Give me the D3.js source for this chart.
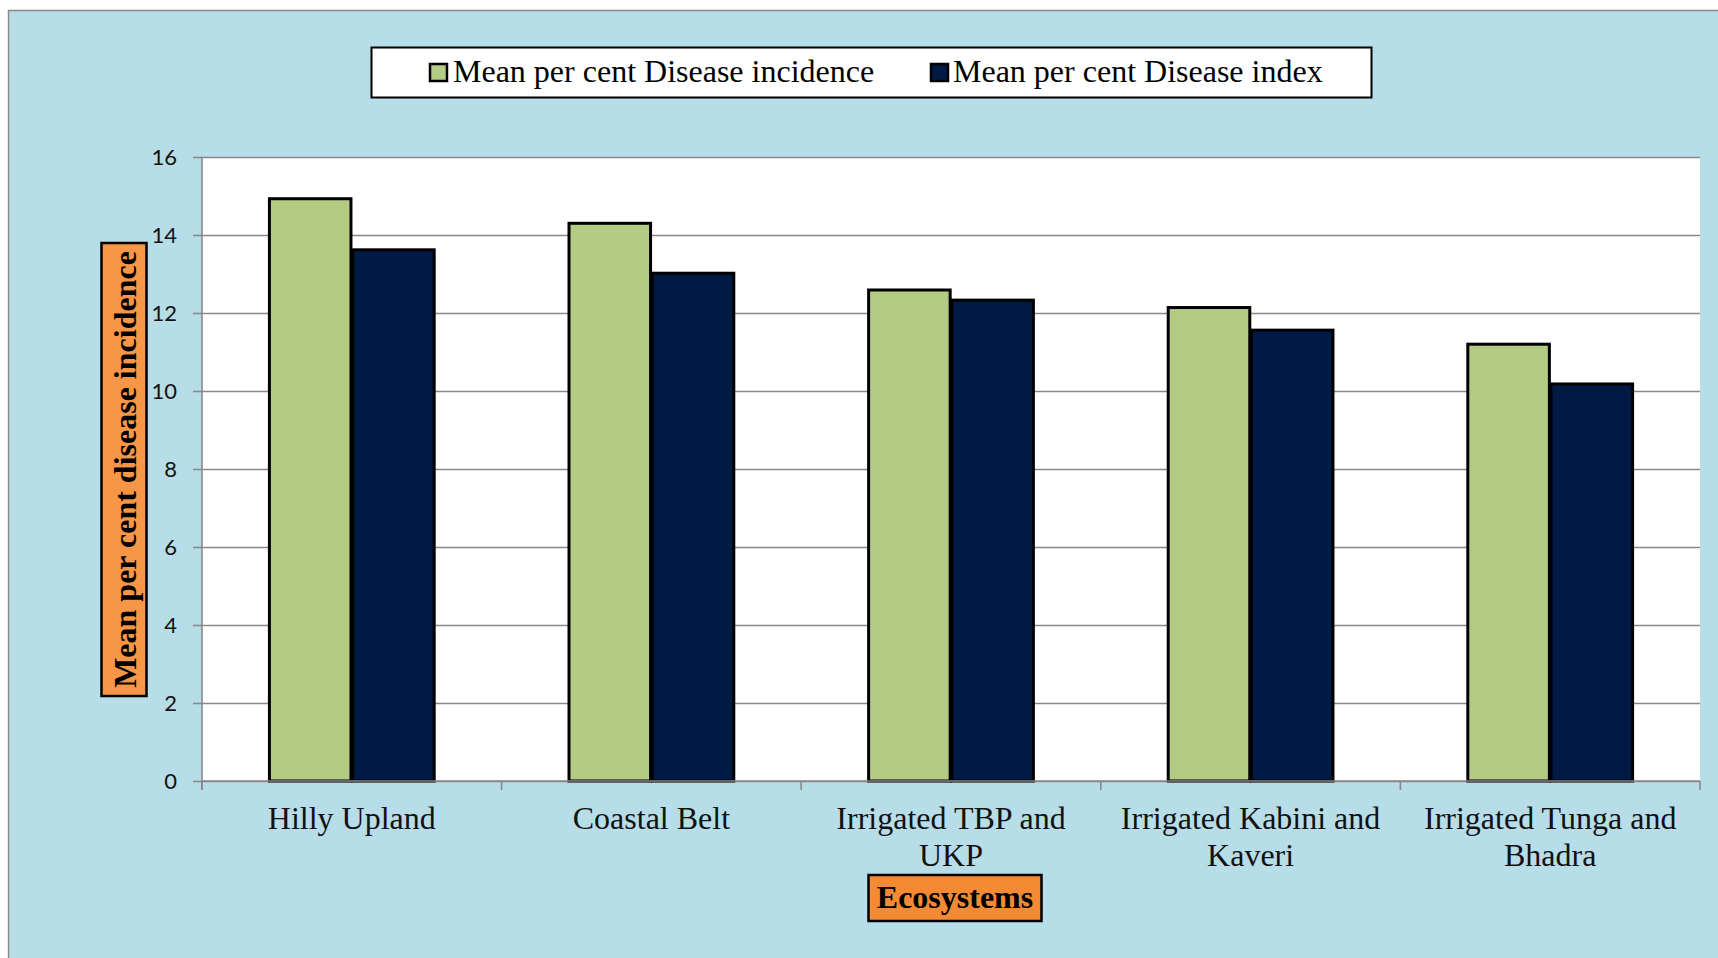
<!DOCTYPE html>
<html>
<head>
<meta charset="utf-8">
<script src="https://cdn.jsdelivr.net/npm/d3@7"></script>
<style>
  html, body { margin: 0; padding: 0; background: #ffffff; }
  svg { display: block; }
</style>
</head>
<body>
<svg id="chart" width="1718" height="958"></svg>
<script>
// Ecosystems surveyed
const categories = [
  "Hilly Upland",
  "Coastal Belt",
  "Irrigated TBP and UKP",
  "Irrigated Kabini and Kaveri",
  "Irrigated Tunga and Bhadra"
];
// Axis labels wrapped onto two lines
const categoryLines = [
  ["Hilly Upland"],
  ["Coastal Belt"],
  ["Irrigated TBP and", "UKP"],
  ["Irrigated Kabini and", "Kaveri"],
  ["Irrigated Tunga and", "Bhadra"]
];
const seriesNames = ["Mean per cent Disease incidence", "Mean per cent Disease index"];
const diseaseIncidence = [14.93, 14.30, 12.59, 12.14, 11.20];
const diseaseIndex = [13.62, 13.02, 12.33, 11.56, 10.18];
const yTicks = [0, 2, 4, 6, 8, 10, 12, 14, 16];

const seriesValues = [diseaseIncidence, diseaseIndex];
const colors = ["#b4cb84", "#001a46"];

const svg = d3.select("#chart");
const serif = "'Liberation Serif', 'Times New Roman', serif";
const gridColor = "#888888";

// chart background
svg.append("rect")
  .attr("x", 8.5).attr("y", 10.5)
  .attr("width", 1730).attr("height", 970)
  .attr("fill", "#b7dde8")
  .attr("stroke", "#8a8a8a").attr("stroke-width", 1.5);

const plot = { left: 202, right: 1700, top: 157, bottom: 781 };

const x = d3.scaleBand().domain(categories).range([plot.left, plot.right]).padding(0);
const y = d3.scaleLinear().domain([0, 16]).range([plot.bottom, plot.top]);

const groupFrac = 0.55;
const x1 = d3.scaleBand()
  .domain(d3.range(seriesNames.length))
  .range([0, x.bandwidth() * groupFrac])
  .paddingInner(0.02);
const groupOffset = x.bandwidth() * (1 - groupFrac) / 2;

// plot area
svg.append("rect")
  .attr("x", plot.left).attr("y", plot.top)
  .attr("width", plot.right - plot.left).attr("height", plot.bottom - plot.top)
  .attr("fill", "#ffffff");

// horizontal gridlines
const grid = svg.append("g")
  .attr("transform", `translate(${plot.left},0)`)
  .call(d3.axisLeft(y).tickValues(yTicks).tickSize(-(plot.right - plot.left)).tickFormat(""));
grid.select(".domain").remove();
grid.selectAll(".tick line").attr("stroke", gridColor).attr("stroke-width", 1.6);

// y axis with outward ticks
const yAxis = svg.append("g")
  .attr("transform", `translate(${plot.left},0)`)
  .call(d3.axisLeft(y).tickValues(yTicks).tickSize(9).tickPadding(16).tickFormat(d3.format("d")));
yAxis.select(".domain").attr("stroke", gridColor).attr("stroke-width", 1.6)
  .attr("d", `M0,${plot.top}V${plot.bottom + 9}`);
yAxis.selectAll(".tick line").attr("stroke", gridColor).attr("stroke-width", 1.6);
yAxis.selectAll(".tick text")
  .attr("fill", "#111")
  .style("font-family", "Lato, 'Open Sans', sans-serif")
  .style("font-size", "22px");

// bars
const groups = svg.append("g").selectAll("g")
  .data(categories)
  .join("g")
  .attr("transform", d => `translate(${x(d) + groupOffset},0)`);

groups.selectAll("rect")
  .data((d, i) => seriesValues.map((vals, s) => ({ s, v: vals[i] })))
  .join("rect")
  .attr("x", d => x1(d.s))
  .attr("y", d => y(d.v))
  .attr("width", x1.bandwidth())
  .attr("height", d => y(0) - y(d.v))
  .attr("fill", d => colors[d.s])
  .attr("stroke", "#000")
  .attr("stroke-width", 3);

// x axis line and category separators
svg.append("line")
  .attr("x1", plot.left).attr("x2", plot.right)
  .attr("y1", plot.bottom).attr("y2", plot.bottom)
  .attr("stroke", gridColor).attr("stroke-width", 1.6);
const boundaries = categories.map(c => x(c)).concat([x.range()[1]]);
svg.append("g").selectAll("line")
  .data(boundaries)
  .join("line")
  .attr("x1", d => d).attr("x2", d => d)
  .attr("y1", plot.bottom).attr("y2", plot.bottom + 9)
  .attr("stroke", gridColor).attr("stroke-width", 1.6);

// category labels
const labels = svg.append("g").selectAll("text")
  .data(categories)
  .join("text")
  .attr("x", d => x(d) + x.bandwidth() / 2)
  .attr("y", 828.5)
  .attr("text-anchor", "middle")
  .style("font-family", serif)
  .style("font-size", "32px")
  .attr("fill", "#111");
labels.selectAll("tspan")
  .data((d, i) => categoryLines[i])
  .join("tspan")
  .attr("x", function () { return d3.select(this.parentNode).attr("x"); })
  .attr("dy", (d, i) => i === 0 ? 0 : 37)
  .text(d => d);

// x axis title
const xTitleCx = x(categories[2]) + x.bandwidth() / 2 + 4;
svg.append("rect")
  .attr("x", xTitleCx - 86.5).attr("y", 875)
  .attr("width", 173).attr("height", 46)
  .attr("fill", "#f48a34").attr("stroke", "#000").attr("stroke-width", 2.5);
svg.append("text")
  .attr("x", xTitleCx).attr("y", 908)
  .attr("text-anchor", "middle")
  .style("font-family", serif).style("font-size", "32px").style("font-weight", "bold")
  .attr("fill", "#000")
  .text("Ecosystems");

// y axis title
svg.append("rect")
  .attr("x", 101.5).attr("y", 243)
  .attr("width", 45).attr("height", 453)
  .attr("fill", "#f79646").attr("stroke", "#000").attr("stroke-width", 2.5);
svg.append("text")
  .attr("transform", `translate(136,${(243 + 696) / 2}) rotate(-90)`)
  .attr("text-anchor", "middle")
  .style("font-family", serif).style("font-size", "32px").style("font-weight", "bold")
  .attr("fill", "#000")
  .text("Mean per cent disease incidence");

// legend
const legend = svg.append("g");
legend.append("rect")
  .attr("x", 371.5).attr("y", 47.5)
  .attr("width", 1000).attr("height", 50)
  .attr("fill", "#ffffff").attr("stroke", "#000").attr("stroke-width", 2);
const legendItems = [{ mx: 430, tx: 453 }, { mx: 931, tx: 953 }];
legendItems.forEach((it, i) => {
  legend.append("rect")
    .attr("x", it.mx).attr("y", 64)
    .attr("width", 17).attr("height", 17)
    .attr("fill", colors[i]).attr("stroke", "#000").attr("stroke-width", 2.5);
  legend.append("text")
    .attr("x", it.tx).attr("y", 82)
    .style("font-family", serif).style("font-size", "32px")
    .attr("fill", "#000")
    .text(seriesNames[i]);
});
</script>
</body>
</html>
